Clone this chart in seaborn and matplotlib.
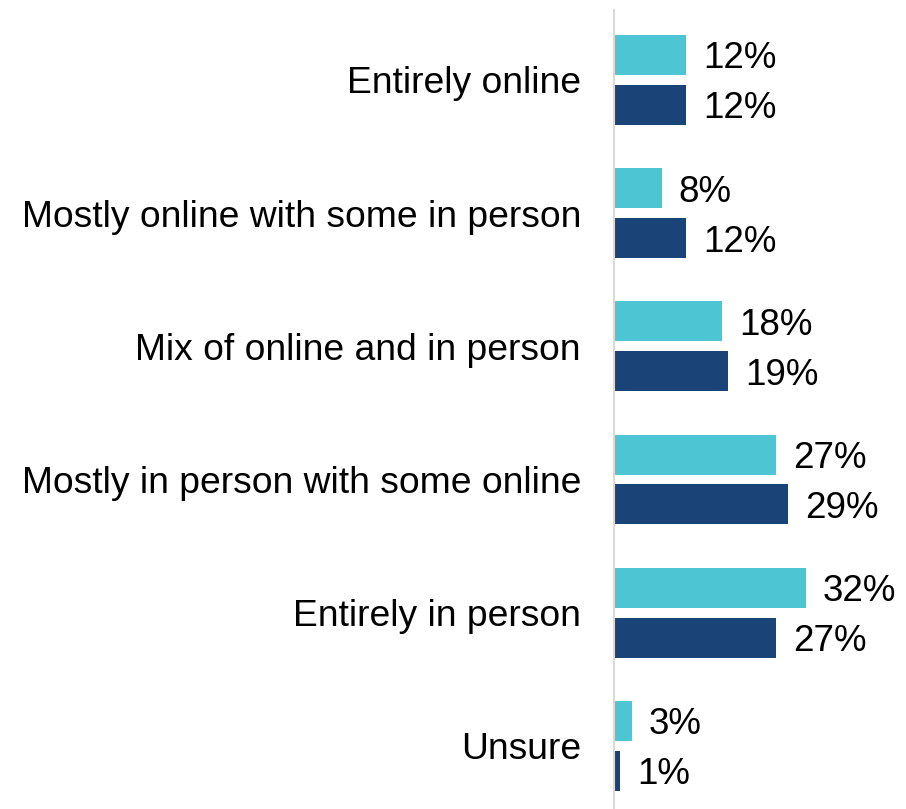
import matplotlib
matplotlib.use("Agg")
import matplotlib.pyplot as plt
import seaborn as sns
import pandas as pd

categories = ["Entirely online", "Mostly online with some in person", "Mix of online and in person",
              "Mostly in person with some online", "Entirely in person", "Unsure"]
series_names = ["Series A", "Series B"]
series_a = [12, 8, 18, 27, 32, 3]
series_b = [12, 12, 19, 29, 27, 1]
colors = ["#4EC5D3", "#1A4478"]

rows = []
for c, a, b in zip(categories, series_a, series_b):
    rows.append({"cat": c, "series": series_names[0], "val": a})
    rows.append({"cat": c, "series": series_names[1], "val": b})
df = pd.DataFrame(rows)

sns.set_style("white")
plt.rcParams['font.family'] = ['Liberation Sans', 'DejaVu Sans']

fig = plt.figure(figsize=(9.06, 8.09), dpi=100)
ax = fig.add_axes([0.678, 0.0, 0.322, 0.988])
sns.barplot(data=df, y="cat", x="val", hue="series", order=categories, hue_order=series_names,
            palette=colors, orient="h", width=0.75, gap=0.2, legend=False, ax=ax,
            saturation=1, errorbar=None, linewidth=0)

for cont in ax.containers:
    anns = ax.bar_label(cont, labels=[f"{int(v)}%" for v in cont.datavalues], padding=12,
                        fontsize=26.5, color="black")
    for a in anns:
        a.set_va("center_baseline")

ax.set_xlim(0, 48.7)
ax.set_ylim(5.473, -0.526)
ax.set_xlabel("")
ax.set_ylabel("")
ax.set_xticks([])
ax.tick_params(axis="y", length=0, pad=24, labelsize=26.8, labelcolor="black")
for s in ["top", "right", "bottom"]:
    ax.spines[s].set_visible(False)
ax.spines["left"].set_color("#D9D9D9")
ax.spines["left"].set_linewidth(1.5)

fig.savefig("out.png", dpi=100)
